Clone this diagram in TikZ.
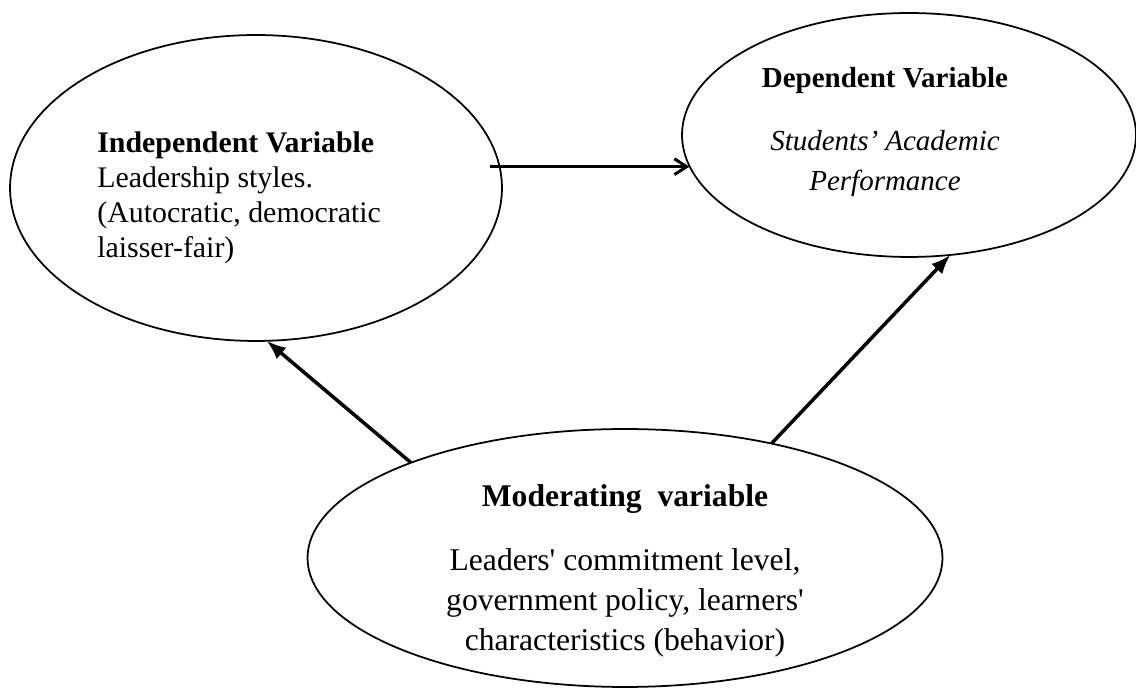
\documentclass[tikz,border=0pt]{standalone}
\usepackage{fontspec}
\setmainfont{Liberation Serif}
\usetikzlibrary{shapes.geometric, arrows.meta, positioning}
\tikzstyle{varellipse} = [ellipse, draw=black, line width=1pt, outer sep=0pt, inner sep=0pt]
\tikzstyle{vartext} = [inner sep=0pt, font=\fontsize{17}{20}\selectfont]
\tikzstyle{arrow} = [line width=2pt, -{Latex[length=11pt, width=8.5pt]}]
\tikzstyle{openarrow} = [line width=1.7pt, -{Straight Barb[length=7pt, width=9pt]}]

\begin{document}
\begin{tikzpicture}[x=0.02cm, y=0.02cm]
    \useasboundingbox (0,0) rectangle (1136,689);
    \node (indep) [varellipse, minimum width=9.84cm, minimum height=6.12cm] at (256,501) {};
    \node (dep) [varellipse, minimum width=9.08cm, minimum height=4.88cm] at (909,554) {};
    \node (mod) [varellipse, minimum width=12.7cm, minimum height=5.16cm] at (625,131) {};

    \node (indeptext) [vartext, align=left, anchor=north west] at (97,558) {\textbf{Independent Variable}\\Leadership styles.\\(Autocratic, democratic\\laisser-fair)};
    \node (deptext) [vartext, align=center, anchor=north, font=\fontsize{16.5}{22.8}\selectfont] at (885,622) {\textbf{Dependent Variable}\\[0.46cm]\textit{Students’ Academic}\\\textit{Performance}};
    \node (modtext) [vartext, align=center, anchor=north, font=\fontsize{18}{22.8}\selectfont] at (625,205) {\textbf{Moderating~ variable}\\[0.48cm]Leaders\textquotesingle{} commitment level,\\government policy, learners\textquotesingle\\characteristics (behavior)};

    \draw [openarrow] ([xshift=-0.2cm]indep.5) -- (indep.5 -| dep.188);
    \draw [arrow] (mod.156) -- (indep.274);
    \draw [arrow] (mod.38) -- (dep.289);
\end{tikzpicture}
\end{document}
